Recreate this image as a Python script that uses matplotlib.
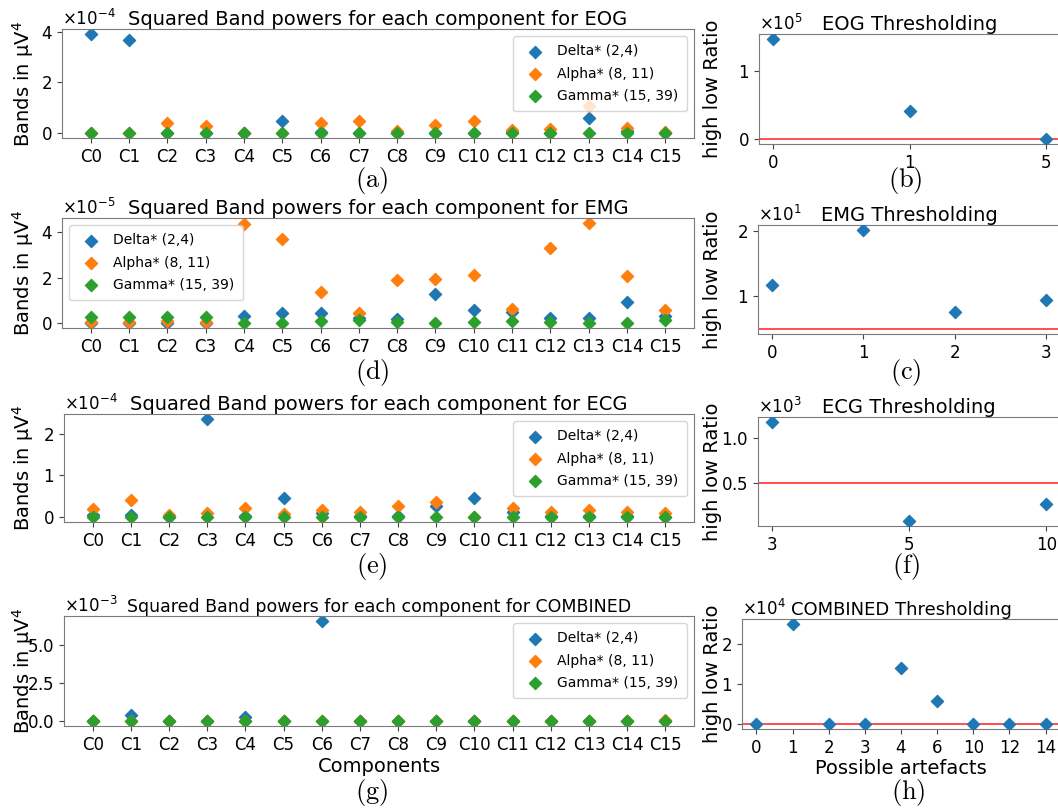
import matplotlib
matplotlib.use("Agg")
import matplotlib.pyplot as plt
import matplotlib.transforms as mtransforms
import numpy as np

# ---------------------------------------------------------------- data
components = [f"C{i}" for i in range(16)]
band_names = ["Delta* (2,4)", "Alpha* (8, 11)", "Gamma* (15, 39)"]
band_colors = ["tab:blue", "tab:orange", "tab:green"]

# squared band powers per ICA component (µV^4)
eog_delta = np.array([3.91, 3.67, 0.03, 0.02, 0.02, 0.49, 0.04, 0.02, 0.03, 0.02, 0.03, 0.04, 0.03, 0.59, 0.10, 0.02]) * 1e-4
eog_alpha = np.array([0.01, 0.01, 0.40, 0.29, 0.03, 0.02, 0.42, 0.47, 0.10, 0.34, 0.50, 0.13, 0.17, 1.06, 0.22, 0.04]) * 1e-4
eog_gamma = np.array([0.01, 0.01, 0.02, 0.01, 0.01, 0.01, 0.02, 0.01, 0.01, 0.01, 0.02, 0.02, 0.01, 0.02, 0.02, 0.01]) * 1e-4

emg_delta = np.array([0.02, 0.02, 0.02, 0.02, 0.34, 0.47, 0.47, 0.25, 0.18, 1.29, 0.59, 0.49, 0.25, 0.25, 0.96, 0.34]) * 1e-5
emg_alpha = np.array([0.05, 0.05, 0.10, 0.07, 4.37, 3.70, 1.36, 0.44, 1.90, 1.93, 2.12, 0.64, 3.30, 4.41, 2.10, 0.59]) * 1e-5
emg_gamma = np.array([0.27, 0.30, 0.30, 0.27, 0.04, 0.04, 0.10, 0.15, 0.07, 0.03, 0.07, 0.10, 0.06, 0.04, 0.04, 0.15]) * 1e-5

ecg_delta = np.array([0.06, 0.04, 0.01, 2.35, 0.02, 0.46, 0.10, 0.02, 0.03, 0.27, 0.46, 0.11, 0.02, 0.02, 0.02, 0.01]) * 1e-4
ecg_alpha = np.array([0.20, 0.42, 0.04, 0.10, 0.22, 0.08, 0.18, 0.11, 0.26, 0.37, 0.00, 0.22, 0.11, 0.18, 0.13, 0.10]) * 1e-4
ecg_gamma = np.array([0.005, 0.005, 0.004, 0.005, 0.006, 0.004, 0.005, 0.004, 0.006, 0.005, 0.004, 0.005, 0.005, 0.004, 0.005, 0.004]) * 1e-4

comb_delta = np.array([0.01, 0.39, 0.01, 0.01, 0.26, 0.01, 6.59, 0.01, 0.01, 0.01, 0.01, 0.01, 0.01, 0.01, 0.01, 0.01]) * 1e-3
comb_alpha = np.array([0.005, 0.005, 0.004, 0.005, 0.006, 0.004, 0.005, 0.004, 0.005, 0.004, 0.005, 0.004, 0.005, 0.004, 0.006, 0.05]) * 1e-3
comb_gamma = np.array([0.002, 0.002, 0.002, 0.002, 0.002, 0.002, 0.002, 0.002, 0.002, 0.002, 0.002, 0.002, 0.002, 0.002, 0.002, 0.002]) * 1e-3

# high/low band ratio of the flagged components, with detection thresholds
eog_art = ["0", "1", "5"]
eog_ratio = [146400, 41400, 600]
eog_thr = 1000

emg_art = ["0", "1", "2", "3"]
emg_ratio = [11.7, 20.1, 7.6, 9.35]
emg_thr = 5

ecg_art = ["3", "5", "10"]
ecg_ratio = [1175, 88, 270]
ecg_thr = 500

comb_art = ["0", "1", "2", "3", "4", "6", "10", "12", "14"]
comb_ratio = [45, 25050, 30, 60, 13950, 5800, 20, 35, 25]
comb_thr = 100

# ---------------------------------------------------------------- figure
W, H = 1058, 808
fig = plt.figure(figsize=(W / 100, H / 100), dpi=100)
SPINE = "#7a7a7a"


def px_axes(left, top, right, bottom):
    return fig.add_axes([left / W, 1 - bottom / H, (right - left) / W, (bottom - top) / H])


def style(ax, tick_size=12):
    for s in ax.spines.values():
        s.set_color(SPINE)
    ax.tick_params(labelsize=tick_size, length=3.5, color="#444444")
    ax.ticklabel_format(axis="y", style="sci", scilimits=(0, 0), useMathText=True)
    ax.yaxis.get_offset_text().set_fontsize(12)


def ylabel_at(ax, text, xpix):
    ax.set_ylabel(text, fontsize=14, va="center")
    tr = mtransforms.blended_transform_factory(fig.transFigure, ax.transAxes)
    ax.yaxis.set_label_coords(xpix / W, 0.5, transform=tr)


left_panels = [
    # name, series, box (l, t, r, b), yticks, legend loc, title size
    ("EOG", (eog_delta, eog_alpha, eog_gamma), (62, 29, 694, 138), [0, 2e-4, 4e-4], "upper right", 14),
    ("EMG", (emg_delta, emg_alpha, emg_gamma), (62, 218, 694, 328), [0, 2e-5, 4e-5], "upper left", 14),
    ("ECG", (ecg_delta, ecg_alpha, ecg_gamma), (64, 414, 694, 522), [0, 1e-4, 2e-4], "upper right", 14),
    ("COMBINED", (comb_delta, comb_alpha, comb_gamma), (64, 616, 694, 726), [0, 2.5e-3, 5e-3], "upper right", 12.5),
]

for name, series, box, yt, loc, tsize in left_panels:
    ax = px_axes(*box)
    for vals, lab, col in zip(series, band_names, band_colors):
        ax.scatter(components, vals, marker="D", s=38, color=col, label=lab)
    ax.set_yticks(yt)
    style(ax)
    ax.set_title(f"Squared Band powers for each component for {name}", fontsize=tsize, pad=3)
    ylabel_at(ax, r"Bands in $\mathrm{\mu V}^4$", 23)
    ax.legend(loc=loc, fontsize=10, handletextpad=0.6, borderpad=0.6, labelspacing=0.6)
    if name == "COMBINED":
        ax.set_xlabel("Components", fontsize=14, labelpad=2)

right_panels = [
    ("EOG", eog_art, eog_ratio, eog_thr, (759, 34, 1060, 144), [0, 1e5], 14),
    ("EMG", emg_art, emg_ratio, emg_thr, (758, 225, 1060, 334), [10, 20], 14),
    ("ECG", ecg_art, ecg_ratio, ecg_thr, (758, 417, 1060, 526), [500, 1000], 14),
    ("COMBINED", comb_art, comb_ratio, comb_thr, (742, 619, 1060, 729), [0, 1e4, 2e4], 13),
]

for name, arts, ratio, thr, box, yt, tsize in right_panels:
    ax = px_axes(*box)
    ax.scatter(arts, ratio, marker="D", s=38, color="tab:blue", zorder=3)
    ax.axhline(thr, color="red", lw=1.3, alpha=0.75, zorder=2)
    ax.set_yticks(yt)
    style(ax)
    ax.set_title(f"{name} Thresholding", fontsize=tsize, pad=3)
    ylabel_at(ax, "high low Ratio", 712)
    if name == "COMBINED":
        ax.set_xlabel("Possible artefacts", fontsize=14, labelpad=2)

# sub-figure captions
captions = [("a", 372, 181), ("b", 905, 181), ("d", 372, 372), ("c", 906, 372),
            ("e", 372, 567), ("f", 906, 566), ("g", 372, 792), ("h", 908, 792)]
for letter, xp, yp in captions:
    fig.text(xp / W, 1 - yp / H, r"$\mathrm{(" + letter + r")}$", fontsize=19,
             math_fontfamily="cm", ha="center", va="center")

fig.savefig("out.png", dpi=100)
